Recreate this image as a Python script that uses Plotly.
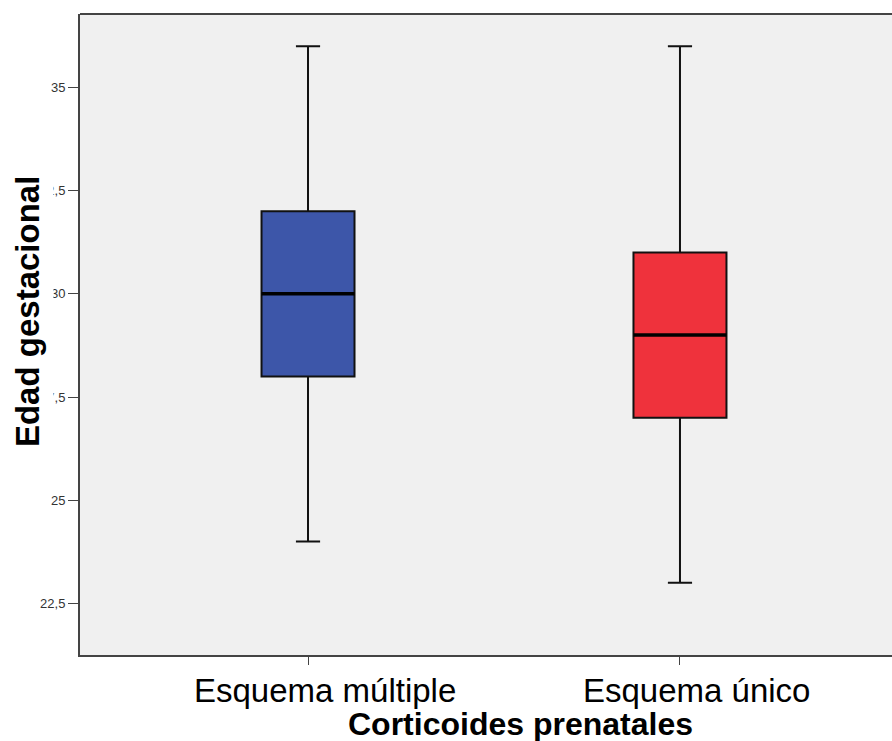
import plotly.graph_objects as go

# ---- data ----
categories = ["Esquema múltiple", "Esquema único"]
lower_whisker = [24, 23]
q1_values = [28, 27]
median_values = [30, 29]
q3_values = [32, 31]
upper_whisker = [36, 36]
box_colors = ["#3d56a9", "#ef323c"]
y_tickvals = [22.5, 25, 27.5, 30, 32.5, 35]
y_ticktext = ["22,5", "25", "27,5", "30", "32,5", "35"]
x_title = "Corticoides prenatales"
y_title = "Edad gestacional"

BOX_W = 0.25

fig = go.Figure()
for i, cat in enumerate(categories):
    fig.add_trace(go.Box(
        x=[i], q1=[q1_values[i]], median=[median_values[i]], q3=[q3_values[i]],
        lowerfence=[lower_whisker[i]], upperfence=[upper_whisker[i]],
        width=BOX_W, whiskerwidth=0.26,
        fillcolor=box_colors[i], line=dict(color="#111111", width=2),
        boxpoints=False, showlegend=False, name=cat,
    ))
    fig.add_trace(go.Scatter(
        x=[i - BOX_W / 2, i + BOX_W / 2], y=[median_values[i]] * 2,
        mode="lines", line=dict(color="#000000", width=3.5),
        showlegend=False, hoverinfo="skip",
    ))

annotations = []
# y-axis title (white background hides part of tick labels as in the original)
annotations.append(dict(
    text=f"<b>{y_title}</b>", textangle=-90, xref="paper", yref="paper",
    x=0, xshift=-53, y=0.535, xanchor="center", yanchor="middle",
    showarrow=False, font=dict(family="Liberation Sans, Arial", size=33, color="#000"),
    bgcolor="#ffffff", borderpad=7,
))
# x-axis title
annotations.append(dict(
    text=f"<b>{x_title}</b>", xref="paper", yref="paper",
    x=0.5419, y=0, yshift=-69, xanchor="center", yanchor="middle",
    showarrow=False, font=dict(family="Liberation Sans, Arial", size=32, color="#000"),
))
# category labels
for i, cat in enumerate(categories):
    annotations.append(dict(
        text=cat, xref="x", yref="paper", x=i, xshift=17, y=0, yshift=-35,
        xanchor="center", yanchor="middle", showarrow=False,
        font=dict(family="Liberation Sans, Arial", size=33, color="#000"),
    ))

fig.update_layout(
    width=892, height=741,
    margin=dict(l=80, r=0, t=14, b=86),
    paper_bgcolor="#ffffff", plot_bgcolor="#f0f0f0",
    showlegend=False,
    annotations=annotations,
    shapes=[dict(type="line", xref="paper", yref="paper", x0=0, x1=1, y0=1, y1=1,
                 line=dict(color="#444444", width=2), layer="above")],
    xaxis=dict(range=[-0.613, 1.57], tickvals=[0, 1], ticktext=["", ""],
               showgrid=False, zeroline=False, showline=True, linecolor="#444444",
               linewidth=2, ticks="outside", ticklen=8, tickcolor="#444444"),
    yaxis=dict(range=[21.25, 36.78], tickvals=y_tickvals, ticktext=y_ticktext,
               showgrid=False, zeroline=False, showline=True, linecolor="#444444",
               linewidth=2, ticks="outside", ticklen=10, tickcolor="#444444",
               tickfont=dict(family="Liberation Sans, Arial", size=13, color="#333333")),
)

fig.write_html("out.html")
